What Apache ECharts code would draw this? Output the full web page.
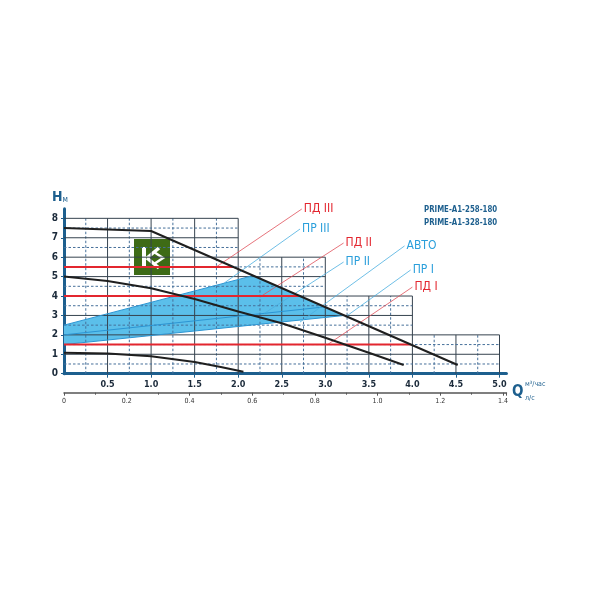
<!DOCTYPE html>
<html><head><meta charset="utf-8">
<script src="https://cdn.jsdelivr.net/npm/echarts@6/dist/echarts.min.js"></script>
<style>html,body{margin:0;padding:0;background:#fff}#c{width:600px;height:600px}</style>
</head><body><div id="c"></div>
<script>
// ---- data ----
const curveIII = [[0, 7.5], [1.0, 7.35], [4.52, 0.45]];
const curveII = [[0, 5.0], [0.5, 4.77], [1.0, 4.4], [1.5, 3.85], [2.0, 3.2], [2.5, 2.6], [3.0, 1.85], [3.5, 1.08], [3.9, 0.45]];
const curveI = [[0, 1.08], [0.5, 1.04], [1.0, 0.9], [1.5, 0.6], [1.8, 0.35], [2.06, 0.1]];
const autoZone = [[0, 2.5], [2.17, 5.05], [3.22, 3.0], [0, 1.5]];
const prIII = [[0, 2.5], [2.17, 5.05]];
const prII = [[0, 2.0], [2.99, 3.44]];
const prI = [[0, 1.5], [3.22, 3.0]];
const pdIII = [[0, 5.5], [1.95, 5.5]];
const pdII = [[0, 4.0], [2.72, 4.0]];
const pdI = [[0, 1.5], [3.98, 1.5]];
const leaderNames = ['ПД III', 'ПР III', 'ПД II', 'ПР II', 'АВТО', 'ПР I', 'ПД I'];
const leaderKinds = ['pd', 'pr', 'pd', 'pr', 'pr', 'pr', 'pd'];
const leaderFrom = [[1.745, 5.49], [1.84, 4.67], [2.25, 3.95], [2.30, 3.11], [2.71, 2.66], [3.23, 2.92], [3.02, 1.48]];
const leaderTo = [[2.73, 8.48], [2.71, 7.45], [3.21, 6.73], [3.21, 5.75], [3.91, 6.58], [3.98, 5.34], [4.0, 4.46]];
// stepped grid: [fromQ, toQ, topH]
const gridSteps = [[0, 2, 8], [2, 3, 6], [3, 4, 4], [4, 5, 2]];
const titles = ['PRIME-A1-258-180', 'PRIME-A1-328-180'];

const NARROW = "'Liberation Sans Narrow', 'DejaVu Sans Condensed', sans-serif";
const RED = '#e3262f', RED_THIN = '#e0505a', BLUE = '#2b95d3', BLUE_TXT = '#2a9fdb', NAVY = '#1d5f8e';
const Q_MAX = 5.08, H_MAX = 8.5;

// build grid lines from steps
const gridLines = [];
for (let k = 1; k <= 20; k++) {
  const q = k * 0.25;
  let top = 0;
  gridSteps.forEach(s => { if (q >= s[0] - 1e-9 && q <= s[1] + 1e-9) top = Math.max(top, s[2]); });
  gridLines.push([q, 0, q, top, k % 2 === 0 ? 1 : 0]);
}
for (let k = 1; k <= 16; k++) {
  const h = k * 0.5;
  let right = 0;
  gridSteps.forEach(s => { if (s[2] >= h - 1e-9) right = Math.max(right, s[1]); });
  gridLines.push([0, h, right, h, k % 2 === 0 ? 1 : 0]);
}

const chart = echarts.init(document.getElementById('c'), null, { renderer: 'canvas' });

function lineSeries(data, color, width, z) {
  return { type: 'line', data, symbol: 'none', clip: false, z, lineStyle: { color, width }, silent: true, animation: false, xAxisIndex: 0, yAxisIndex: 0 };
}

const series = [
  {
    type: 'custom', z: 1, animation: false, silent: true, xAxisIndex: 0, yAxisIndex: 0,
    data: [0],
    renderItem: (params, api) => ({
      type: 'polygon',
      shape: { points: autoZone.map(p => api.coord(p)) },
      style: { fill: '#5bbfea' }
    })
  },
  {
    type: 'custom', z: 2, animation: false, silent: true, xAxisIndex: 0, yAxisIndex: 0,
    data: gridLines,
    encode: { x: [0, 2], y: [1, 3] },
    renderItem: (params, api) => {
      const p1 = api.coord([api.value(0), api.value(1)]);
      const p2 = api.coord([api.value(2), api.value(3)]);
      const solid = api.value(4) === 1;
      return {
        type: 'line',
        shape: { x1: p1[0], y1: p1[1], x2: p2[0], y2: p2[1] },
        style: { stroke: solid ? '#36434f' : '#46709a', lineWidth: 1, lineDash: solid ? null : [2.5, 2] }
      };
    }
  },
  lineSeries(prIII, BLUE, 1, 3),
  lineSeries(prII, BLUE, 1, 3),
  lineSeries(prI, BLUE, 1, 3),
  lineSeries(pdIII, RED, 2, 4),
  lineSeries(pdII, RED, 2, 4),
  lineSeries(pdI, RED, 2, 4),
  lineSeries(curveIII, '#1f1f1f', 2, 5),
  lineSeries(curveII, '#1f1f1f', 2, 5),
  lineSeries(curveI, '#1f1f1f', 2, 5)
];
leaderNames.forEach((name, i) => {
  const pd = leaderKinds[i] === 'pd';
  const s = lineSeries([leaderFrom[i], leaderTo[i]], pd ? RED_THIN : '#4aaee0', 0.8, 3);
  s.name = name;
  s.endLabel = { show: true, formatter: name, color: pd ? RED : BLUE_TXT, fontSize: 12, fontFamily: NARROW, distance: 2 };
  series.push(s);
});

const option = {
  backgroundColor: '#fff',
  animation: false,
  grid: { left: 64, right: 600 - (64 + Q_MAX * 87.1), top: 373.7 - H_MAX * 19.42, bottom: 600 - 373.7, containLabel: false },
  xAxis: [
    {
      type: 'value', min: 0, max: Q_MAX, interval: 0.5, position: 'bottom',
      axisLine: { show: true, onZero: false, lineStyle: { color: NAVY, width: 3 } },
      axisTick: { show: true, length: 4, lineStyle: { color: NAVY, width: 1 } },
      axisLabel: { margin: 6, fontSize: 9, fontWeight: 'bold', color: '#1b2a3a', fontFamily: NARROW,
        showMinLabel: false, showMaxLabel: false,
        formatter: v => (Math.abs(v * 2 - Math.round(v * 2)) < 1e-6 && v > 0 && v <= 5 ? v.toFixed(1) : '') },
      splitLine: { show: false }
    },
    {
      type: 'value', min: 0, max: Q_MAX / 3.6, interval: 0.2, position: 'bottom', offset: 19,
      axisLine: { show: true, onZero: false, lineStyle: { color: '#555', width: 1.5 } },
      axisTick: { show: true, length: 3, lineStyle: { color: '#555' } },
      minorTick: { show: true, splitNumber: 2, length: 2, lineStyle: { color: '#555' } },
      axisLabel: { margin: 5, fontSize: 7, color: '#333', fontFamily: NARROW, showMaxLabel: false,
        formatter: v => {
          const k = Math.round(v / 0.2);
          if (Math.abs(v - k * 0.2) > 1e-6) return '';
          return k === 0 ? '0' : (k * 0.2).toFixed(1);
        } },
      splitLine: { show: false }
    }
  ],
  yAxis: {
    type: 'value', min: 0, max: H_MAX, interval: 1,
    axisLine: { show: true, onZero: false, lineStyle: { color: NAVY, width: 3 } },
    axisTick: { show: true, length: 3, lineStyle: { color: NAVY } },
    axisLabel: { margin: 6, fontSize: 10, fontWeight: 'bold', color: '#1b2a3a', fontFamily: NARROW, showMaxLabel: false,
      formatter: v => (Math.abs(v - Math.round(v)) < 1e-6 ? String(Math.round(v)) : '') },
    splitLine: { show: false }
  },
  series,
  graphic: [
    { type: 'text', x: 424, y: 205, scaleX: 0.82, style: { text: titles[0], fontSize: 9.5, fontWeight: 'bold', fill: NAVY, fontFamily: NARROW } },
    { type: 'text', x: 424, y: 218, scaleX: 0.82, style: { text: titles[1], fontSize: 9.5, fontWeight: 'bold', fill: NAVY, fontFamily: NARROW } },
    { type: 'text', left: 52, top: 190, style: { text: '{a|H}{b|м}', rich: { a: { fontSize: 14, fontWeight: 'bold', fill: NAVY, fontFamily: NARROW }, b: { fontSize: 8, fill: NAVY, fontFamily: NARROW, padding: [6, 0, 0, 0] } } } },
    { type: 'text', left: 512, top: 385, style: { text: 'Q', fontSize: 15, fontWeight: 'bold', fill: NAVY, fontFamily: NARROW } },
    { type: 'text', left: 525, top: 381, style: { text: 'м³/час', fontSize: 7, fill: NAVY, fontFamily: NARROW } },
    { type: 'text', left: 525, top: 395, style: { text: 'л/с', fontSize: 7, fill: NAVY, fontFamily: NARROW } },
    {
      type: 'group', left: 134, top: 239, children: [
        { type: 'rect', shape: { x: 0, y: 0, width: 36, height: 36 }, style: { fill: '#3e6b16' } },
        { type: 'rect', shape: { x: 8, y: 8, width: 4, height: 21 }, style: { fill: '#fff' } },
        { type: 'polyline', shape: { points: [[13, 19], [25, 9]] }, style: { stroke: '#fff', lineWidth: 3.5, fill: null } },
        { type: 'polyline', shape: { points: [[13, 19], [25, 29]] }, style: { stroke: '#fff', lineWidth: 3.5, fill: null } },
        { type: 'polyline', shape: { points: [[20, 13], [29, 19], [20, 25]] }, style: { stroke: '#fff', lineWidth: 2.5, fill: null } }
      ]
    }
  ]
};
chart.setOption(option);
</script>
</body></html>
